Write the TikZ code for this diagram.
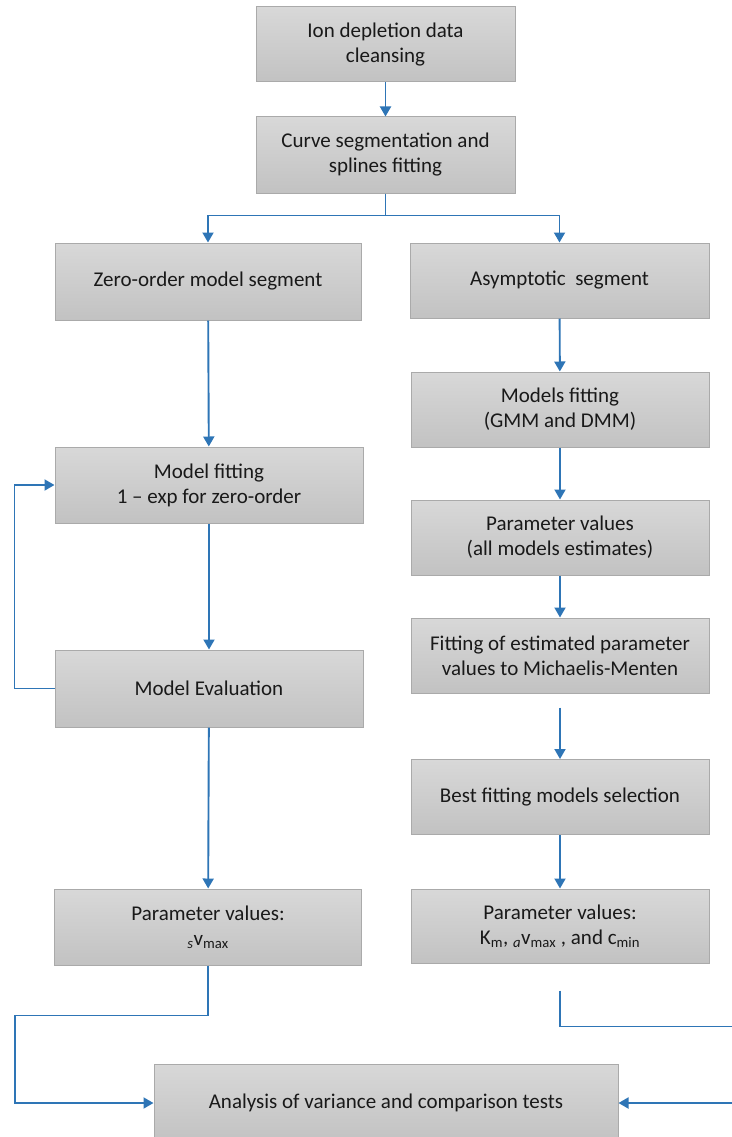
\documentclass[tikz,border=0pt]{standalone}
\usepackage{fontspec}
\setmainfont{Carlito}
\usepackage{tikz}
\usepackage{xcolor}
\usetikzlibrary{arrows.meta}
\definecolor{linkblue}{RGB}{46,117,182}
\definecolor{boxtop}{RGB}{216,216,216}
\definecolor{boxbot}{RGB}{194,194,194}
\definecolor{boxline}{RGB}{170,170,170}

\begin{document}
\begin{tikzpicture}[x=1pt,y=-1pt,
  stage/.style={draw=boxline,line width=1pt,top color=boxtop,bottom color=boxbot,
    align=center,inner sep=0pt,font=\fontsize{21}{25}\selectfont,text=black!90},
  conn/.style={draw=linkblue,line width=1.9pt,-{Triangle[length=10pt,width=11pt]}}]
\useasboundingbox (0,0) rectangle (731,1137);
\node[stage,minimum width=259pt,minimum height=75pt] (clean) at (385.5,44.5) {Ion depletion data\\cleansing};
\node[stage,minimum width=259pt,minimum height=76pt] (split) at (385.5,155) {Curve segmentation and\\splines fitting};
\node[stage,minimum width=306pt,minimum height=77pt] (zero) at (208,281.5) {Zero-order model segment};
\node[stage,minimum width=299pt,minimum height=75pt] (asym) at (559.5,280.5) {Asymptotic\ \ segment};
\node[stage,minimum width=308pt,minimum height=76pt] (zfit) at (209,485) {Model fitting\\1 -- exp for zero-order};
\node[stage,minimum width=308pt,minimum height=77pt] (zeval) at (209,688.5) {Model Evaluation};
\node[stage,minimum width=307pt,minimum height=76pt] (zpar) at (208,927) {Parameter values:\\\textsubscript{\textit{s}}v\textsubscript{max}};
\node[stage,minimum width=298pt,minimum height=75pt] (afit) at (560,409.5) {Models fitting\\(GMM and DMM)};
\node[stage,minimum width=298pt,minimum height=75pt] (apar) at (560,537.5) {Parameter values\\(all models estimates)};
\node[stage,minimum width=298pt,minimum height=75pt] (amm) at (560,655.5) {Fitting of estimated parameter\\values to Michaelis-Menten};
\node[stage,minimum width=298pt,minimum height=75pt] (abest) at (560,797) {Best fitting models selection};
\node[stage,minimum width=298pt,minimum height=74pt] (afin) at (560,926) {Parameter values:\\K\textsubscript{m}, \textsubscript{\textit{a}}v\textsubscript{max} , and c\textsubscript{min}};
\node[stage,minimum width=464pt,minimum height=78pt] (anova) at (386,1103) {Analysis of variance and comparison tests};
\draw[conn] (clean) -- (split);
\draw[conn] (split.south) -- ++(0,22) -| (zero.north);
\draw[conn] (split.south) -- ++(0,22) -| (asym.north);
\draw[conn] (zero) -- (zfit);
\draw[conn] (zfit) -- (zeval);
\draw[conn] (zeval.west) -- ++(-40,0) |- (zfit.west);
\draw[conn] (zeval) -- (zpar);
\draw[conn] (asym) -- (afit);
\draw[conn] (afit) -- (apar);
\draw[conn] (apar) -- (amm);
\draw[conn,shorten <=14pt] (amm) -- (abest);
\draw[conn] (abest) -- (afin);
\draw[conn] (zpar.south) -- ++(0,50) -- ++(-193,0) |- (anova.west);
\draw[conn,shorten <=27pt] (afin.south) -- ++(0,63) -- ++(190,0) |- (anova.east);
\end{tikzpicture}
\end{document}
